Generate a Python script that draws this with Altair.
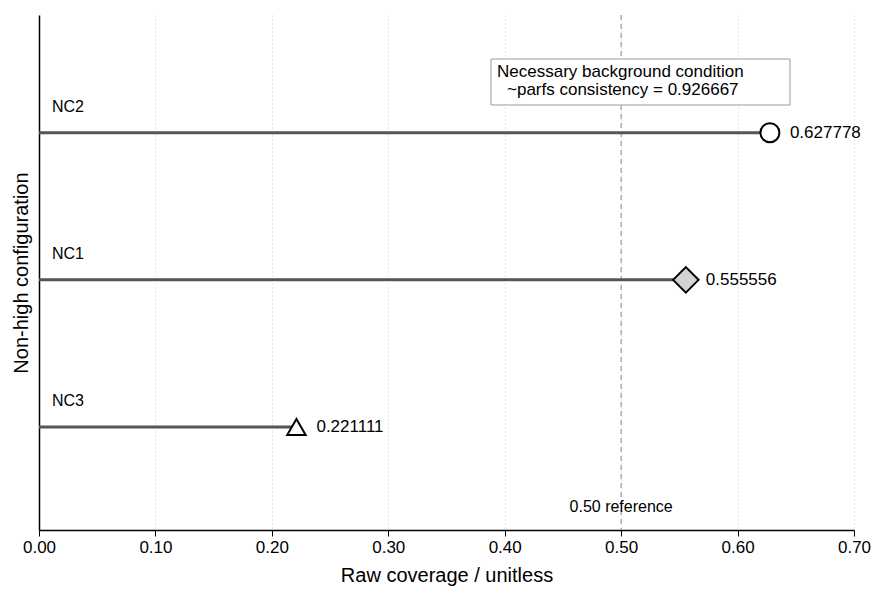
import altair as alt
import pandas as pd

configs = ["NC2", "NC1", "NC3"]
coverage = [0.627778, 0.555556, 0.221111]
rank = [3, 2, 1]
shapes = ["circle", "diamond", "triangle-up"]
fills = ["white", "#d3d3d3", "white"]
labels = ["0.627778", "0.555556", "0.221111"]
ref_value = [0.5]
ref_label = ["0.50 reference"]
note_lines = ["Necessary background condition", "~parfs consistency = 0.926667"]
x_ticks = [0, 0.1, 0.2, 0.3, 0.4, 0.5, 0.6, 0.7]

df = pd.DataFrame({"config": configs, "coverage": coverage, "rank": rank,
                   "shape": shapes, "fill": fills, "label": labels})
ref = pd.DataFrame({"ref": ref_value, "txt": ref_label})

FONT = "Liberation Sans"
xscale = alt.Scale(domain=[0, 0.7], nice=False, zero=True)
yscale = alt.Scale(domain=[0.3, 3.8], nice=False, zero=False)

base = alt.Chart(df)

xaxis = alt.Axis(values=x_ticks, format=".2f", labelFlush=False,
                 grid=True, gridColor="#cccccc", gridDash=[1, 3], gridWidth=1,
                 domainColor="black", domainWidth=1.5, tickColor="black", tickSize=6,
                 tickWidth=1, labelFontSize=17, labelColor="black", labelPadding=3,
                 title="Raw coverage / unitless", titleFontSize=20, titleFontWeight="normal",
                 titleColor="black", titlePadding=10)
yaxis = alt.Axis(labels=False, ticks=False, grid=False, domainColor="black",
                 domainWidth=1.5, title="Non-high configuration", titleFontSize=20,
                 titleFontWeight="normal", titleColor="black", titlePadding=8)

stems = base.transform_calculate(zero="0").mark_rule(color="#555555", strokeWidth=3).encode(
    x=alt.X("zero:Q", scale=xscale, axis=xaxis),
    x2="coverage:Q",
    y=alt.Y("rank:Q", scale=yscale, axis=yaxis),
)

refline = alt.Chart(ref).mark_rule(color="#888888", strokeDash=[5, 4], strokeWidth=1).encode(
    x=alt.X("ref:Q", scale=xscale),
    y=alt.value(0), y2=alt.value(515),
)
reftext = alt.Chart(ref).mark_text(fontSize=16, font=FONT, color="black", align="center",
                                   baseline="middle").encode(
    x=alt.X("ref:Q", scale=xscale), y=alt.value(492), text="txt:N")

def marker(shape_name, size):
    return base.transform_filter(alt.datum.shape == shape_name).mark_point(
        filled=True, stroke="black", strokeWidth=2, size=size, opacity=1).encode(
        x=alt.X("coverage:Q", scale=xscale),
        y=alt.Y("rank:Q", scale=yscale),
        shape=alt.Shape("shape:N", scale=None),
        fill=alt.Fill("fill:N", scale=None),
    )

m_circle = marker("circle", 361)
m_diamond = marker("diamond", 650)
m_tri = marker("triangle-up", 340)

vlabels = base.mark_text(align="left", baseline="middle", dx=20, fontSize=17, font=FONT,
                         color="black").encode(
    x=alt.X("coverage:Q", scale=xscale), y=alt.Y("rank:Q", scale=yscale), text="label:N")

clabels = base.mark_text(align="left", baseline="middle", dy=-26, fontSize=16, font=FONT,
                         color="black").encode(
    x=alt.value(13), y=alt.Y("rank:Q", scale=yscale), text="config:N")

box = alt.Chart(pd.DataFrame({"a": [1]})).mark_rect(
    fill="white", stroke="#999999", strokeWidth=1).encode(
    x=alt.value(452), x2=alt.value(751), y=alt.value(44), y2=alt.value(90))

notes = pd.DataFrame({"line": note_lines})
note1 = alt.Chart(notes.iloc[[0]]).mark_text(align="left", baseline="middle", fontSize=17,
                                             font=FONT, color="black").encode(
    x=alt.value(458), y=alt.value(57), text="line:N")
note2 = alt.Chart(notes.iloc[[1]]).mark_text(align="left", baseline="middle", fontSize=17,
                                             font=FONT, color="black").encode(
    x=alt.value(468), y=alt.value(75), text="line:N")

chart = alt.layer(refline, stems, m_circle, m_diamond, m_tri, vlabels, clabels, reftext,
                  box, note1, note2).properties(
    width=815, height=515,
    autosize=alt.AutoSizeParams(type="none"),
    padding={"left": 39, "top": 15, "right": 18, "bottom": 62},
).configure(font=FONT).configure_view(stroke=None).configure_axis(
    labelFont=FONT, titleFont=FONT)

chart.save("out.html", embed_options={"renderer": "svg", "actions": False})
